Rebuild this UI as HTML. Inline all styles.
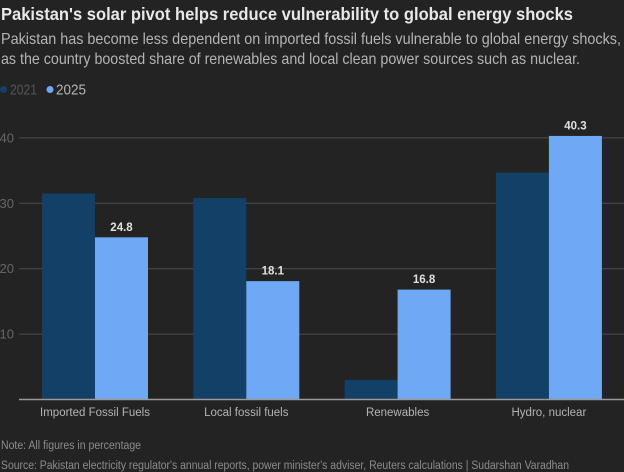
<!DOCTYPE html>
<html lang="en">
<head>
<meta charset="utf-8">
<title>Pakistan's solar pivot</title>
<style>
html,body{margin:0;padding:0;background:#232323;}
svg{display:block;font-family:"Liberation Sans",sans-serif;}
</style>
</head>
<body>
<svg id="chart" width="624" height="472" viewBox="0 0 624 472" xmlns="http://www.w3.org/2000/svg">
  <rect width="624" height="472" fill="#232323"/>
  <text x="1" y="20" font-size="17.5" font-weight="700" fill="#e8e8e8" textLength="572" lengthAdjust="spacingAndGlyphs">Pakistan's solar pivot helps reduce vulnerability to global energy shocks</text>
  <text x="1" y="44" font-size="16" fill="#b4b4b4" textLength="620" lengthAdjust="spacingAndGlyphs">Pakistan has become less dependent on imported fossil fuels vulnerable to global energy shocks,</text>
  <text x="1" y="64" font-size="16" fill="#b4b4b4" textLength="579" lengthAdjust="spacingAndGlyphs">as the country boosted share of renewables and local clean power sources such as nuclear.</text>

  <circle cx="3.5" cy="89.5" r="3.5" fill="#134066"/>
  <text x="10" y="94.5" font-size="14.5" fill="#555555" textLength="27" lengthAdjust="spacingAndGlyphs">2021</text>
  <circle cx="50" cy="89.5" r="3.5" fill="#6fa8f5"/>
  <text x="56" y="94.5" font-size="14.5" fill="#b4b4b4" textLength="30" lengthAdjust="spacingAndGlyphs">2025</text>

  <g id="grid"></g>
  <g id="bars"></g>
  <g id="xlabels"></g>

  <text x="1" y="449" font-size="11.5" fill="#8c8c8c" textLength="140" lengthAdjust="spacingAndGlyphs">Note: All figures in percentage</text>
  <text x="1" y="469" font-size="11.5" fill="#8c8c8c" textLength="568" lengthAdjust="spacingAndGlyphs">Source: Pakistan electricity regulator's annual reports, power minister's adviser, Reuters calculations | Sudarshan Varadhan</text>
</svg>
<script>
var categories = ["Imported Fossil Fuels", "Local fossil fuels", "Renewables", "Hydro, nuclear"];
var values2021 = [31.5, 30.8, 3.0, 34.7];
var values2025 = [24.8, 18.1, 16.8, 40.3];
var yTicks = [10, 20, 30, 40];

var NS = "http://www.w3.org/2000/svg";
var Y0 = 399.5, UNIT = 6.54;
var GROUP_START = 42, GROUP_STEP = 151.3, BAR_W = 53;
function yScale(v) { return Y0 - v * UNIT; }
function groupX(i) { return GROUP_START + i * GROUP_STEP; }
function make(parent, tag, attrs) {
  var el = document.createElementNS(NS, tag);
  for (var k in attrs) { el.setAttribute(k, attrs[k]); }
  parent.appendChild(el);
  return el;
}
var grid = document.getElementById("grid");
var bars = document.getElementById("bars");
var xlabels = document.getElementById("xlabels");

yTicks.forEach(function (t) {
  var line = make(grid, "line", {x1: 19, x2: 624, y1: yScale(t), y2: yScale(t), stroke: "#4d4d4d", "stroke-width": 1});
  
  
  var label = make(grid, "text", {x: 14, y: yScale(t) + 4.5, "text-anchor": "end", "font-size": 13, fill: "#666666"});
  
  
  label.textContent = t;
});

categories.forEach(function (c, i) {
  var x = groupX(i);
  var a = make(bars, "rect", {x: x, y: yScale(values2021[i]), width: BAR_W, height: Y0 - yScale(values2021[i]), fill: "#134066"});
  
  
  var b = make(bars, "rect", {x: x + BAR_W, y: yScale(values2025[i]), width: BAR_W, height: Y0 - yScale(values2025[i]), fill: "#6fa8f5"});
  
  
  var v = make(bars, "text", {x: x + BAR_W * 1.5, y: yScale(values2025[i]) - 6.5, "text-anchor": "middle", "font-size": 11.5, "font-weight": 700, fill: "#e0e0e0"});
  
  
  v.textContent = values2025[i].toFixed(1);
  var l = make(xlabels, "text", {x: x + BAR_W, y: 416, "text-anchor": "middle", "font-size": 11.5, fill: "#b4b4b4"});
  
  
  l.textContent = c;
});

var axis = make(grid, "line", {x1: 19, x2: 624, y1: Y0, y2: Y0, stroke: "#9a9a9a", "stroke-width": 1.5});


bars.parentNode.appendChild(axis);
</script>
</body>
</html>
